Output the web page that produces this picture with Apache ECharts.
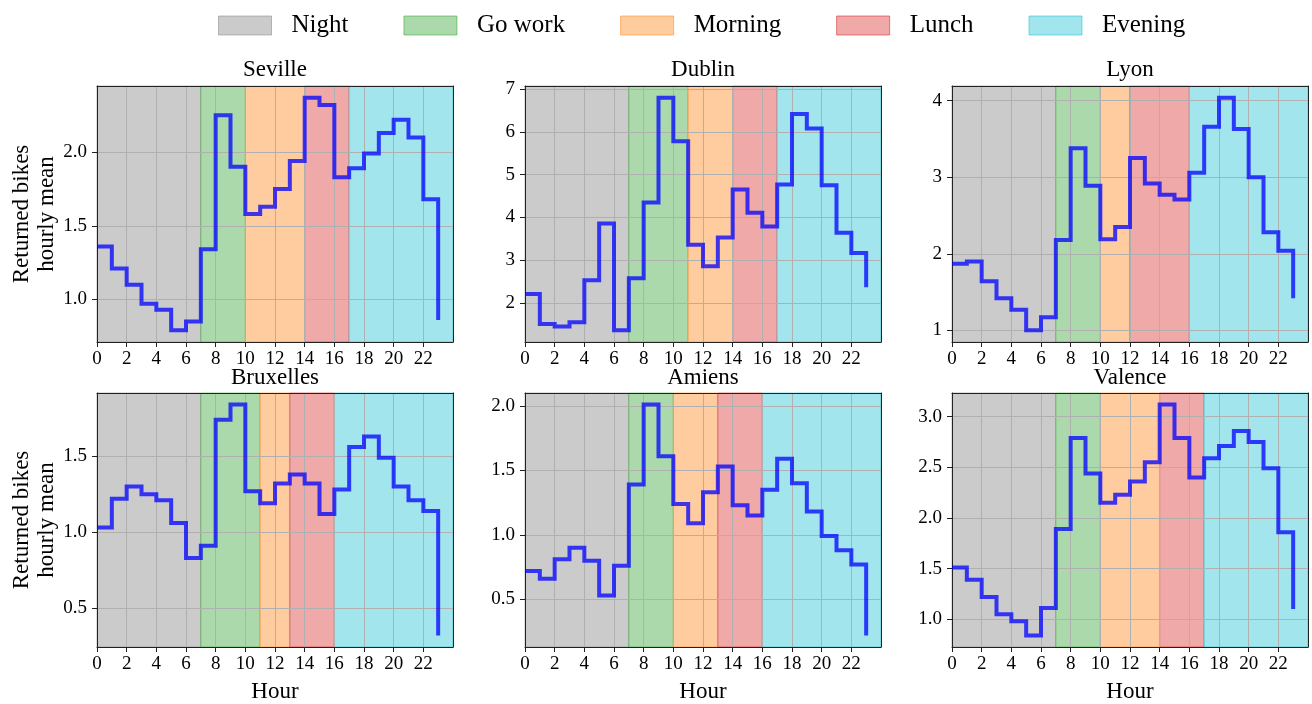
<!DOCTYPE html>
<html><head><meta charset="utf-8">
<script src="https://cdn.jsdelivr.net/npm/echarts@6/dist/echarts.min.js"></script>
<style>html,body{margin:0;padding:0;background:#fff}#c{width:1312px;height:704px}</style>
</head><body><div id="c"></div>
<script>
// ---------- data ----------
const hours = [0,1,2,3,4,5,6,7,8,9,10,11,12,13,14,15,16,17,18,19,20,21,22,23];
const cityNames = ['Seville','Dublin','Lyon','Bruxelles','Amiens','Valence'];
const periodNames = ['Night','Go work','Morning','Lunch','Evening'];
const xTicks = [0,2,4,6,8,10,12,14,16,18,20,22];

const seville   = [1.36,1.21,1.10,0.97,0.93,0.79,0.85,1.34,2.25,1.90,1.58,1.63,1.75,1.94,2.37,2.32,1.83,1.89,1.99,2.13,2.22,2.10,1.68,0.86];
const dublin    = [2.21,1.51,1.45,1.55,2.53,3.86,1.36,2.58,4.35,6.80,5.78,3.36,2.86,3.53,4.65,4.11,3.79,4.77,6.42,6.08,4.75,3.64,3.17,2.37];
const lyon      = [1.87,1.90,1.64,1.42,1.27,1.00,1.17,2.18,3.38,2.89,2.19,2.35,3.25,2.92,2.77,2.71,3.06,3.66,4.04,3.63,3.00,2.28,2.04,1.42];
const bruxelles = [1.03,1.22,1.30,1.25,1.21,1.06,0.83,0.91,1.74,1.84,1.27,1.19,1.32,1.38,1.32,1.12,1.28,1.56,1.63,1.49,1.30,1.21,1.14,0.32];
const amiens    = [0.72,0.66,0.81,0.90,0.80,0.53,0.76,1.39,2.01,1.61,1.24,1.09,1.33,1.53,1.23,1.15,1.35,1.59,1.40,1.18,0.99,0.88,0.77,0.22];
const valence   = [1.51,1.39,1.22,1.05,0.98,0.84,1.11,1.89,2.79,2.44,2.15,2.23,2.36,2.55,3.12,2.79,2.40,2.59,2.71,2.86,2.75,2.49,1.86,1.10];

// period boundaries (hours): Night | Go work | Morning | Lunch | Evening
const sevillePeriods   = [0,7,10,14,17,24];
const dublinPeriods    = [0,7,11,14,17,24];
const lyonPeriods      = [0,7,10,12,16,24];
const bruxellesPeriods = [0,7,11,13,16,24];
const amiensPeriods    = [0,7,10,13,16,24];
const valencePeriods   = [0,7,10,14,17,24];

const sevilleYTicks   = [1.0,1.5,2.0];
const dublinYTicks    = [2,3,4,5,6,7];
const lyonYTicks      = [1,2,3,4];
const bruxellesYTicks = [0.5,1.0,1.5];
const amiensYTicks    = [0.5,1.0,1.5,2.0];
const valenceYTicks   = [1.0,1.5,2.0,2.5,3.0];

// ---------- build ----------
const allValues  = [seville,dublin,lyon,bruxelles,amiens,valence];
const allPeriods = [sevillePeriods,dublinPeriods,lyonPeriods,bruxellesPeriods,amiensPeriods,valencePeriods];
const allYTicks  = [sevilleYTicks,dublinYTicks,lyonYTicks,bruxellesYTicks,amiensYTicks,valenceYTicks];
const yDecimals  = [1,0,0,1,1,1];

const FONT = '"Liberation Serif","DejaVu Serif",serif';
const faces = ['#cbcbcb','#abd9ab','#ffcc9f','#efa9a9','#a2e5ec'];
const edges = ['rgba(127,127,127,0.5)','rgba(44,160,44,0.5)','rgba(255,127,14,0.5)','rgba(214,39,40,0.55)','rgba(23,190,207,0.5)'];
const lefts = [97,525,952], tops = [86,393], W = 356, H = 256;
const frame = {color:'#222', width:1};

const grid=[], xAxis=[], yAxis=[], series=[], title=[];
cityNames.forEach((city,i)=>{
  const col=i%3, row=Math.floor(i/3);
  const vals=allValues[i];
  grid.push({left:lefts[col], top:tops[row], width:W, height:H});
  const mn=Math.min(...vals), mx=Math.max(...vals), m=(mx-mn)*0.05;
  const ymin=mn-m, ymax=mx+m;
  title.push({text:city, left:lefts[col]+W/2, top: row===0?58:366, textAlign:'center', padding:0,
    textStyle:{fontFamily:FONT,fontSize:23,fontWeight:'normal',color:'#000'}});
  xAxis.push({type:'value', gridIndex:i, min:0, max:24, position:'bottom', z:2,
    axisLine:{show:true,onZero:false,lineStyle:frame},
    axisTick:{show:true,length:5,lineStyle:frame,customValues:xTicks},
    axisLabel:{show:true,customValues:xTicks,color:'#000',fontFamily:FONT,fontSize:19,margin:8},
    splitLine:{show:true,lineStyle:{color:'#b0b0b0',width:1}},
    name: row===1?'Hour':'', nameLocation:'middle', nameGap:33,
    nameTextStyle:{fontFamily:FONT,fontSize:23,color:'#000'}});
  xAxis.push({type:'value', gridIndex:i, min:0, max:24, position:'top', z:2,
    axisLine:{show:true,onZero:false,lineStyle:frame}, axisTick:{show:false}, axisLabel:{show:false}, splitLine:{show:false}});
  const dec=yDecimals[i];
  yAxis.push({type:'value', gridIndex:i, min:ymin, max:ymax, position:'left', z:2,
    axisLine:{show:true,onZero:false,lineStyle:frame},
    axisTick:{show:true,length:5,lineStyle:frame,customValues:allYTicks[i]},
    axisLabel:{show:true,customValues:allYTicks[i],color:'#000',fontFamily:FONT,fontSize:19,margin:10,
      formatter:v=>Number(v).toFixed(dec)},
    splitLine:{show:true,lineStyle:{color:'#b0b0b0',width:1}},
    name: col===0?'Returned bikes\nhourly mean':'', nameLocation:'middle', nameRotate:90, nameGap:38,
    nameTextStyle:{fontFamily:FONT,fontSize:23,lineHeight:25,color:'#000'}});
  yAxis.push({type:'value', gridIndex:i, min:ymin, max:ymax, position:'right', z:2,
    axisLine:{show:true,onZero:false,lineStyle:frame}, axisTick:{show:false}, axisLabel:{show:false}, splitLine:{show:false}});
  const per=allPeriods[i];
  periodNames.forEach((p,k)=>{
    series.push({type:'line', name:p, xAxisIndex:2*i, yAxisIndex:2*i, data:[], z:1, silent:true,
      itemStyle:{color:faces[k]}, lineStyle:{color:faces[k]},
      markArea:{silent:true, itemStyle:{color:faces[k], borderColor:edges[k], borderWidth:1},
        data:[[{xAxis:per[k]},{xAxis:per[k+1]}]]}});
  });
  series.push({type:'line', name:city+' returned', xAxisIndex:2*i, yAxisIndex:2*i, z:3,
    data:hours.map((h,k)=>[h,vals[k]]), step:'end', showSymbol:false, silent:true,
    lineStyle:{color:'rgba(0,0,255,0.75)', width:4, join:'miter', cap:'butt'},
    itemStyle:{color:'rgba(0,0,255,0.75)'}});
});

const chart = echarts.init(document.getElementById('c'), null, {renderer:'canvas'});
chart.setOption({
  animation:false,
  backgroundColor:'#fff',
  title, grid, xAxis, yAxis, series,
  legend:{
    data: periodNames.map((n,k)=>({name:n, itemStyle:{color:faces[k], borderColor:edges[k], borderWidth:1}})),
    left:213, top:8, icon:'rect', itemWidth:53, itemHeight:19, itemGap:55, selectedMode:false,
    textStyle:{fontFamily:FONT, fontSize:25, color:'#000', padding:[0,0,0,15]}
  }
});
</script></body></html>
